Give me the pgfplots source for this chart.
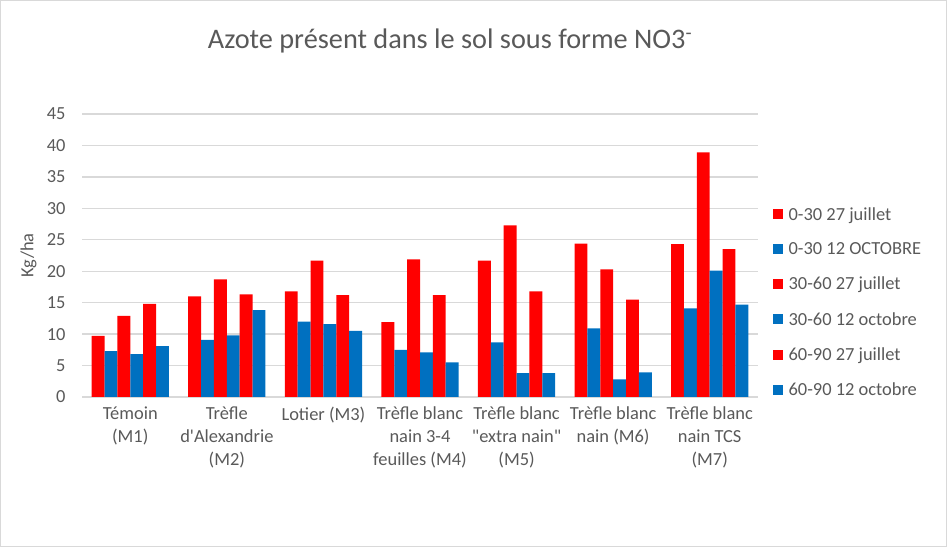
\documentclass[border=0pt]{standalone}
\usepackage{pgfplots}
\pgfplotsset{compat=1.18}
\usepackage{fontspec}
\setmainfont{Carlito}[Ligatures=TeXOff]
\definecolor{xred}{HTML}{FF0000}
\definecolor{xblue}{HTML}{0070C0}
\definecolor{txt}{HTML}{595959}
\definecolor{gridc}{HTML}{D9D9D9}

% Nitrate (kg/ha) per soil layer and sampling date
\pgfplotstableread{
x a b c d e f
0 9.7  7.3  12.9 6.8  14.8 8.1
1 16.0 9.1  18.7 9.8  16.3 13.8
2 16.8 12.0 21.7 11.6 16.2 10.5
3 11.9 7.5  21.9 7.1  16.2 5.5
4 21.7 8.7  27.3 3.8  16.8 3.8
5 24.4 10.9 20.3 2.8  15.5 3.9
6 24.3 14.1 38.9 20.1 23.5 14.7
}\nitrate

\begin{document}
\begin{tikzpicture}
\useasboundingbox (0,0) rectangle (947bp,547bp);
\draw[gridc, line width=1bp] (0.5bp,0.5bp) rectangle (946.5bp,546.5bp);
\node[text=txt, font=\fontsize{28.4}{30}\selectfont, anchor=base] at (450bp,498bp)
  {Azote présent dans le sol sous forme NO3\textsuperscript{-}};
\begin{axis}[
  at={(82bp,150bp)}, anchor=south west,
  scale only axis, width=676bp, height=283bp,
  ymin=0, ymax=45, ytick={0,5,...,45},
  xmin=-0.5, xmax=6.5, xtick={0,...,6},
  xticklabels={
    {Témoin\\(M1)},
    {Trèfle\\d'Alexandrie\\(M2)},
    {Lotier (M3)},
    {Trèfle blanc\\nain 3-4\\feuilles (M4)},
    {Trèfle blanc\\"extra nain"\\(M5)},
    {Trèfle blanc\\nain (M6)},
    {Trèfle blanc\\nain TCS\\(M7)}},
  ybar=0pt, bar width=0.1333,
  axis line style={draw=none},
  major tick length=0pt,
  ymajorgrids, grid style={gridc, line width=1.3bp},
  /pgf/number format/assume math mode=true,
  tick label style={text=txt, font=\fontsize{18.5}{23}\selectfont},
  xticklabel style={align=center, yshift=-6bp},
  yticklabel style={xshift=-13bp},
  ylabel={Kg/ha},
  ylabel style={text=txt, font=\fontsize{18.5}{20}\selectfont, at={(-42bp,0.5)}, anchor=south},
  legend style={at={(1.022,0.68)}, anchor=north west, draw=none, fill=none,
    font=\fontsize{18.5}{20}\selectfont, text=txt,
    row sep=16bp, inner sep=0pt,
    nodes={inner sep=2.5bp}},
  legend cell align=left,
  legend image code/.code={\fill[#1] (0bp,-5bp) rectangle (10bp,5bp); \path (13bp,0bp);},
]
\addplot[fill=xred, draw=none] table[x=x, y=a] {\nitrate};
\addplot[fill=xblue, draw=none] table[x=x, y=b] {\nitrate};
\addplot[fill=xred, draw=none] table[x=x, y=c] {\nitrate};
\addplot[fill=xblue, draw=none] table[x=x, y=d] {\nitrate};
\addplot[fill=xred, draw=none] table[x=x, y=e] {\nitrate};
\addplot[fill=xblue, draw=none] table[x=x, y=f] {\nitrate};
\legend{0-30 27 juillet, 0-30 12 OCTOBRE, 30-60 27 juillet, 30-60 12 octobre, 60-90 27 juillet, 60-90 12 octobre}
\end{axis}
\end{tikzpicture}
\end{document}
